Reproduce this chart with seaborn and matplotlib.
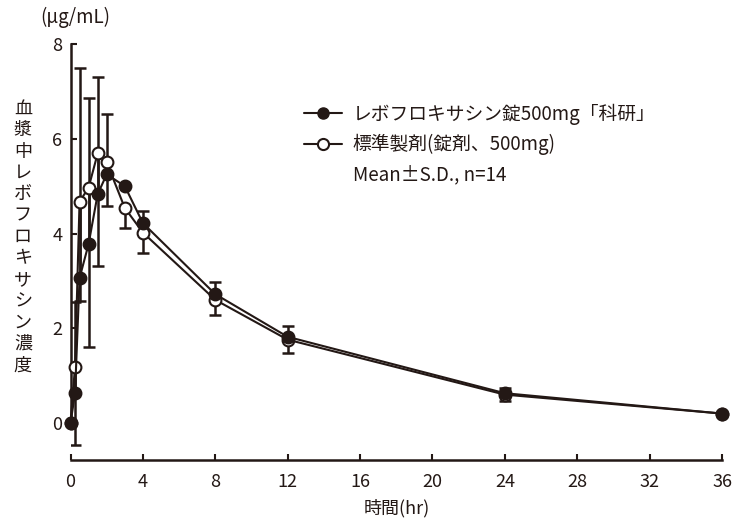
import numpy as np
import pandas as pd
import matplotlib
matplotlib.use("Agg")
import matplotlib.pyplot as plt
import seaborn as sns
from matplotlib.lines import Line2D

# データ
time_hr = [0, 0.25, 0.5, 1, 1.5, 2, 3, 4, 8, 12, 24, 36]
test_mean = [0.0, 0.63, 3.06, 3.78, 4.83, 5.25, 5.00, 4.22, 2.72, 1.82, 0.63, 0.20]
test_sd = [0.0, 1.93, 4.44, 3.07, 2.47, 1.27, 0.0, 0.26, 0.26, 0.23, 0.11, 0.0]
ref_mean = [0.0, 1.19, 4.67, 4.97, 5.69, 5.50, 4.54, 4.02, 2.60, 1.76, 0.60, 0.20]
ref_sd = [0.0, 1.65, 2.10, 3.36, 2.38, 0.92, 0.43, 0.43, 0.32, 0.28, 0.14, 0.0]

test_label = "レボフロキサシン錠500mg「科研」"
ref_label = "標準製剤(錠剤、500mg)"
note_label = "Mean±S.D., n=14"
ylabel_text = "血漿中レボフロキサシン濃度"
unit_text = "(μg/mL)"
xlabel_text = "時間(hr)"
x_ticks = list(range(0, 37, 4))
y_ticks = [0, 2, 4, 6, 8]

sns.set_style("ticks")
plt.rcParams["font.family"] = ["Noto Sans CJK JP", "DejaVu Sans"]
plt.rcParams["axes.unicode_minus"] = False

df = pd.DataFrame({
    "time": time_hr * 2,
    "conc": test_mean + ref_mean,
    "group": [test_label] * len(time_hr) + [ref_label] * len(time_hr),
})

fig = plt.figure(figsize=(7.36, 5.27), dpi=100)
ax = fig.add_axes([0.0958, 0.1271, 0.8852, 0.7894])

ink = "#231815"
# 標準製剤: 下方向の S.D.
ax.errorbar(time_hr, ref_mean, yerr=[ref_sd, np.zeros(len(ref_sd))], fmt="none",
            ecolor=ink, elinewidth=1.8, capsize=4, capthick=1.8, zorder=2)
# 試験製剤: 上方向の S.D.
ax.errorbar(time_hr, test_mean, yerr=[np.zeros(len(test_sd)), test_sd], fmt="none",
            ecolor=ink, elinewidth=1.8, capsize=4, capthick=1.8, zorder=2)

sns.lineplot(data=df[df["group"] == ref_label], x="time", y="conc", ax=ax,
             color=ink, linewidth=1.5, marker="o", markersize=8.5,
             markerfacecolor="white", markeredgecolor=ink, markeredgewidth=1.5,
             legend=False, zorder=3, clip_on=False)
sns.lineplot(data=df[df["group"] == test_label], x="time", y="conc", ax=ax,
             color=ink, linewidth=1.5, marker="o", markersize=8.5,
             markerfacecolor=ink, markeredgecolor=ink, markeredgewidth=1.5,
             legend=False, zorder=4, clip_on=False)

ax.set_xlim(0, 36)
ax.set_ylim(-0.78, 8)
ax.set_xticks(x_ticks)
ax.set_yticks(y_ticks)
ax.tick_params(axis="both", labelsize=13, colors=ink, width=1.5, length=4, direction="in")
ax.tick_params(axis="x", pad=9)
ax.tick_params(axis="y", pad=6)
sns.despine(ax=ax)
ax.spines["left"].set_bounds(0, 8)
for s in ["left", "bottom"]:
    ax.spines[s].set_linewidth(1.8)
    ax.spines[s].set_color(ink)
ax.set_xlabel(xlabel_text, fontsize=13, color=ink, labelpad=6)
ax.set_ylabel("")

fig.text(0.031, 0.55, "\n".join(ylabel_text), fontsize=13, color=ink,
         ha="center", va="center", linespacing=1.24)
fig.text(0.102, 0.966, unit_text, fontsize=13.5, color=ink, ha="center", va="center")

handles = [
    Line2D([], [], color=ink, lw=1.5, marker="o", markersize=8,
           markerfacecolor=ink, markeredgecolor=ink),
    Line2D([], [], color=ink, lw=1.5, marker="o", markersize=8,
           markerfacecolor="white", markeredgecolor=ink, markeredgewidth=1.5),
    Line2D([], [], color="none"),
]
ax.legend(handles, [test_label, ref_label, note_label], loc="upper left",
          bbox_to_anchor=(0.413, 0.803), bbox_transform=fig.transFigure,
          frameon=False, fontsize=13.5, handlelength=2.05, handletextpad=0.55,
          labelspacing=0.48, borderaxespad=0, borderpad=0, labelcolor=ink)

fig.savefig("out.png", dpi=100)
